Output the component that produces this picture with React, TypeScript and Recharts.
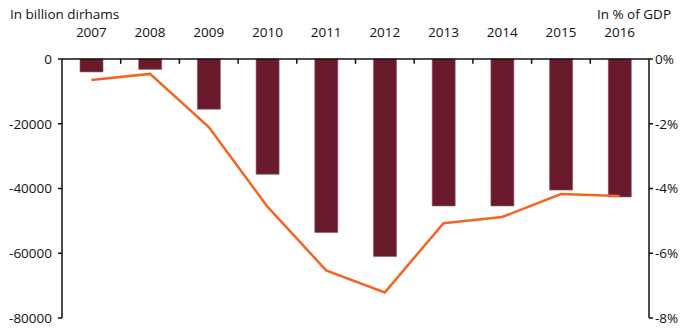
import { ComposedChart, Bar, Line, XAxis, YAxis, ReferenceLine } from "recharts";

const years = ["2007", "2008", "2009", "2010", "2011", "2012", "2013", "2014", "2015", "2016"];
const deficitBn = [-4000, -3200, -15500, -35600, -53600, -61000, -45400, -45400, -40500, -42600];
const deficitPct = [-0.65, -0.46, -2.1, -4.56, -6.53, -7.21, -5.07, -4.88, -4.17, -4.23];
const leftTicks = [0, -20000, -40000, -60000, -80000];
const rightTicks = [0, -2, -4, -6, -8];
// boundaries between the year categories
const boundaryTicks = [0.5, 1.5, 2.5, 3.5, 4.5, 5.5, 6.5, 7.5, 8.5];

const data = years.map((year, i) => ({ year, idx: i, bn: deficitBn[i], pct: deficitPct[i] }));

const FONT = "'Open Sans', sans-serif";
const INK = "#111";

export default function App() {
  return (
    <div style={{ position: "absolute", left: 0, top: 0, width: 683, height: 331, background: "#fff" }}>
      <div style={{ position: "absolute", left: 10, top: 5, fontFamily: FONT, fontSize: 13.5, color: INK }}>
        In billion dirhams
      </div>
      <div style={{ position: "absolute", right: 12, top: 5, fontFamily: FONT, fontSize: 13.5, color: INK }}>
        In % of GDP
      </div>
      <ComposedChart
        width={683}
        height={331}
        data={data}
        margin={{ top: 28, right: 0, left: 0, bottom: 13 }}
      >
        {/* zero line, drawn by a numeric axis that also places the boundary ticks */}
        <XAxis
          xAxisId="bounds"
          dataKey="idx"
          type="number"
          orientation="top"
          domain={[-0.5, 9.5]}
          allowDataOverflow
          ticks={boundaryTicks}
          interval={0}
          height={1}
          tick={false}
          tickLine={false}
          axisLine={{ stroke: INK, strokeWidth: 1.5 }}
        />
        <XAxis
          dataKey="year"
          orientation="top"
          height={30}
          xAxisId="x"
          tickLine={false}
          axisLine={false}
          tickSize={0}
          tickMargin={21}
          tick={{ fontSize: 13.5, fontFamily: FONT, fill: INK }}
          interval={0}
        />
        <YAxis
          yAxisId="left"
          width={62}
          domain={[-80000, 0]}
          ticks={leftTicks}
          interval={0}
          tickSize={4}
          tickMargin={6}
          axisLine={{ stroke: INK, strokeWidth: 1.5 }}
          tickLine={{ stroke: INK, strokeWidth: 1.5 }}
          tick={{ fontSize: 13.5, fontFamily: FONT, fill: INK }}
        />
        <YAxis
          yAxisId="right"
          orientation="right"
          width={34}
          domain={[-8, 0]}
          ticks={rightTicks}
          interval={0}
          tickSize={4}
          tickMargin={2}
          tickFormatter={(v: number) => `${v}%`}
          axisLine={{ stroke: INK, strokeWidth: 1.5 }}
          tickLine={{ stroke: INK, strokeWidth: 1.5 }}
          tick={{ fontSize: 13.5, fontFamily: FONT, fill: INK }}
        />
        <Bar
          dataKey="bn"
          xAxisId="x"
          yAxisId="left"
          barSize={23}
          fill="#6a1b2b"
          stroke="#8c5560"
          strokeWidth={0.6}
          isAnimationActive={false}
        />
        {boundaryTicks.map((b) => (
          <ReferenceLine
            key={b}
            xAxisId="bounds"
            yAxisId="left"
            segment={[
              { x: b, y: 0 },
              { x: b, y: -1500 },
            ]}
            stroke={INK}
            strokeWidth={1.5}
          />
        ))}
        <Line
          dataKey="pct"
          xAxisId="x"
          yAxisId="right"
          type="linear"
          stroke="#f26522"
          strokeWidth={2.5}
          dot={false}
          activeDot={false}
          isAnimationActive={false}
        />
      </ComposedChart>
    </div>
  );
}
